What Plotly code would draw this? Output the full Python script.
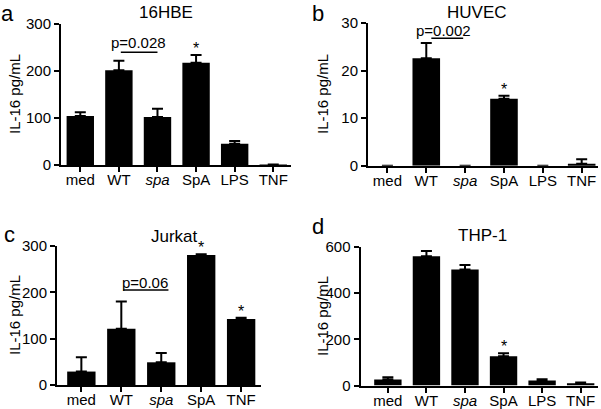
import plotly.graph_objects as go

# data (mean and upward SEM)
cats6 = ["med", "WT", "spa", "SpA", "LPS", "TNF"]
cats5 = ["med", "WT", "spa", "SpA", "TNF"]

hbe_vals = [104, 201, 102, 217, 45, 0.8]
hbe_err = [8, 20, 17, 16, 6, 0]

huvec_vals = [0, 22.6, 0, 14.1, 0, 0.4]
huvec_err = [0, 3.2, 0, 0.6, 0, 0.95]

jurkat_vals = [29, 121.5, 49, 280.5, 142.5]
jurkat_err = [31, 58.5, 20, 1.5, 2.5]

thp_vals = [26, 560, 502, 127, 21.6, 10]
thp_err = [10, 23, 20, 13, 5, 3]

W, H = 601, 409
FONT = "Liberation Sans, Arial, Helvetica, sans-serif"


def px(x):
    return x / W


def py(y):
    return 1 - y / H


def ticktext(cats):
    return ["<i>spa</i>" if c == "spa" else c for c in cats]


fig = go.Figure()

panels = [
    # name, cats, vals, err, x-domain px, y-domain px, xrange, yticks
    ("", cats6, hbe_vals, hbe_err, (61, 291), (165, 23.5), [-0.5, 5.46], [0, 100, 200, 300]),
    ("2", cats6, huvec_vals, huvec_err, (368, 598), (165.7, 23), [-0.5, 5.42], [0, 10, 20, 30]),
    ("3", cats5, jurkat_vals, jurkat_err, (57, 260.7), (385, 246), [-0.61, 4.49], [0, 100, 200, 300]),
    ("4", cats6, thp_vals, thp_err, (360.5, 598), (385.5, 247), [-0.71, 5.45], [0, 200, 400, 600]),
]

layout = {}
for n, cats, vals, err, xd, yd, xr, yt in panels:
    fig.add_trace(go.Bar(
        x=list(range(len(cats))), y=vals,
        width=0.71,
        marker=dict(color="black", line=dict(width=0)),
        error_y=dict(type="data", symmetric=False, array=err,
                     arrayminus=[0] * len(err),
                     color="black", thickness=2, width=5.5),
        xaxis="x" + n, yaxis="y" + n,
        showlegend=False, hoverinfo="skip",
    ))
    layout["xaxis" + n] = dict(
        domain=[px(xd[0]), px(xd[1])], anchor="y" + n,
        range=xr, tickmode="array", automargin=False,
        tickvals=list(range(len(cats))), ticktext=ticktext(cats),
        showline=True, linecolor="black", linewidth=2,
        ticks="outside", ticklen=5, tickwidth=2, tickcolor="black",
        ticklabelstandoff=-5,
        showgrid=False, zeroline=False,
        tickfont=dict(size=15, color="black", family=FONT),
    )
    layout["yaxis" + n] = dict(
        domain=[py(yd[0]), py(yd[1])], anchor="x" + n,
        range=[0, yt[-1]], tickvals=yt, automargin=False,
        showline=True, linecolor="black", linewidth=2,
        ticks="outside", ticklen=5, tickwidth=2, tickcolor="black",
        showgrid=False, zeroline=False,
        tickfont=dict(size=15, color="black", family=FONT),
    )

annotations = []
# panel letters (top row sits against the top edge)
for txt, x, y, ya in [("a", 7, 0, "top"), ("b", 318, 0, "top"),
                      ("c", 9, 234, "middle"), ("d", 318, 227, "middle")]:
    annotations.append(dict(text=txt, x=px(x), y=py(y), xref="paper", yref="paper",
                            xanchor="center", yanchor=ya, borderpad=0, showarrow=False,
                            font=dict(size=22, color="black", family=FONT)))
for txt, x, y in [("16HBE", 166, 13), ("HUVEC", 477, 12), ("Jurkat", 174, 237), ("THP-1", 482, 235)]:
    annotations.append(dict(text=txt, x=px(x), y=py(y), xref="paper", yref="paper",
                            xanchor="center", yanchor="middle", showarrow=False,
                            font=dict(size=17, color="black", family=FONT)))
for x, y in [(14, 94), (322, 94), (14, 315), (322, 316)]:
    annotations.append(dict(text="IL-16 pg/mL", x=px(x), y=py(y), xref="paper", yref="paper",
                            xanchor="center", yanchor="middle", textangle=-90, showarrow=False,
                            font=dict(size=15, color="black", family=FONT)))

# p-values
for txt, xr, yr, x, y in [("p=0.028", "x", "y", 1.5, 259),
                          ("p=0.002", "x2", "y2", 1.45, 28.4),
                          ("p=0.06", "x3", "y3", 1.6, 221)]:
    annotations.append(dict(text=txt, x=x, y=y, xref=xr, yref=yr, showarrow=False,
                            xanchor="center", yanchor="middle",
                            font=dict(size=15, color="black", family=FONT)))

# significance stars
for xr, yr, x, y in [("x", "y", 3, 233), ("x2", "y2", 3, 14.7),
                     ("x3", "y3", 3, 282), ("x3", "y3", 4, 145),
                     ("x4", "y4", 3, 140)]:
    annotations.append(dict(text="*", x=x, y=y, xref=xr, yref=yr, showarrow=False,
                            xanchor="center", yanchor="bottom", yshift=-4,
                            font=dict(size=16, color="black", family=FONT)))

shapes = []
for xr, yr, x0, x1, y in [("x", "y", 1.05, 2.0, 239),
                          ("x2", "y2", 1.13, 1.95, 26.8),
                          ("x3", "y3", 1.05, 2.18, 205)]:
    shapes.append(dict(type="line", xref=xr, yref=yr, x0=x0, x1=x1, y0=y, y1=y,
                       line=dict(color="black", width=1.5)))

fig.update_layout(
    width=W, height=H,
    margin=dict(l=0, r=0, t=0, b=0),
    paper_bgcolor="white", plot_bgcolor="white",
    font=dict(family=FONT, color="black"),
    annotations=annotations,
    shapes=shapes,
    **layout,
)

# drop the default 8px body margin so the figure fills the window
fig.write_html("out.html", config={"displayModeBar": False},
               post_script="document.body.style.margin = '0';")
